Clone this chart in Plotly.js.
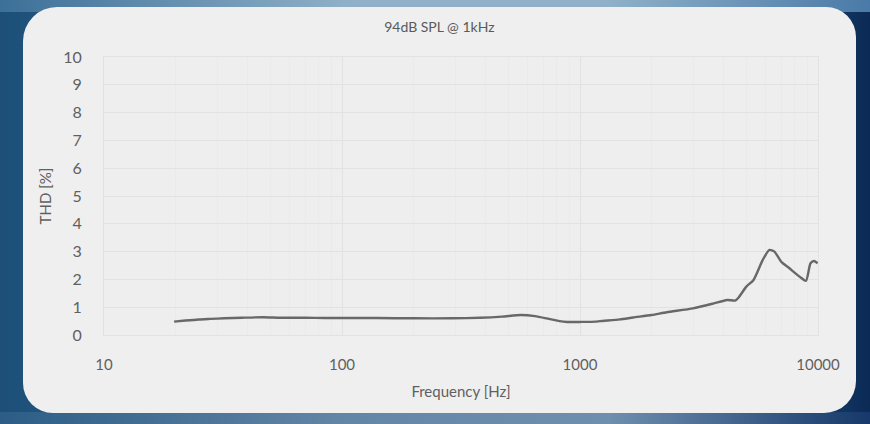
<!DOCTYPE html>
<html><head><meta charset="utf-8">
<script src="https://cdn.plot.ly/plotly-3.0.1.min.js"></script>
<style>
html,body{margin:0;padding:0;width:870px;height:424px;overflow:hidden;}
body{background:linear-gradient(90deg,#1d4f78 0%,#2a6a96 30%,#3a7aa6 60%,#1c4a7a 90%,#0b2a55 100%);position:relative;}
#topband{position:absolute;left:0;top:0;width:870px;height:12px;background:linear-gradient(90deg,#3d7098,#8fb0c8 40%,#8fb0c8 70%,#4a7aa8);}
#botband{position:absolute;left:0;top:412px;width:870px;height:12px;background:linear-gradient(90deg,#2c5d86,#6486a6 40%,#6f8fae 70%,#16386a);}
#panel{position:absolute;left:23px;top:7px;width:833px;height:406px;background:#efefef;border-radius:34px 30px 32px 30px;}
#chart{position:absolute;left:0;top:0;width:870px;height:424px;}
</style></head>
<body>
<div id="topband"></div><div id="botband"></div><div id="panel"></div>
<div id="chart"></div>
<script>
const freqHz = [19.7, 22, 25, 27.9, 32, 38, 46.8, 55, 70, 85, 103, 140, 200, 292, 380, 470, 564, 647, 740, 820, 882, 1000, 1163, 1213, 1472, 1672, 2000, 2316, 2985, 3622, 4147, 4490, 4620, 5000, 5360, 5860, 6250, 6560, 7000, 7580, 8360, 8900, 9300, 9620, 9960];
const thdPct = [0.48, 0.52, 0.56, 0.58, 0.60, 0.62, 0.64, 0.62, 0.62, 0.61, 0.61, 0.61, 0.60, 0.60, 0.62, 0.66, 0.72, 0.68, 0.58, 0.50, 0.47, 0.47, 0.48, 0.50, 0.56, 0.63, 0.72, 0.82, 0.96, 1.13, 1.26, 1.24, 1.33, 1.74, 1.98, 2.70, 3.06, 3.00, 2.64, 2.40, 2.10, 1.95, 2.58, 2.66, 2.58];
const xTickVals = [10, 100, 1000, 10000];
const xTickText = ['10', '100', '1000', '10000'];
const xMinorVals = [20,30,40,50,60,70,80,90,200,300,400,500,600,700,800,900,2000,3000,4000,5000,6000,7000,8000,9000];

const font = {family: 'Lato, "Open Sans", sans-serif', color: '#5f5f5f', size: 14};
Plotly.newPlot('chart', [{
  x: freqHz, y: thdPct, type: 'scatter', mode: 'lines',
  line: {color: '#686868', width: 2.4, shape: 'spline', smoothing: 0.6},
  hoverinfo: 'skip'
}], {
  width: 870, height: 424,
  paper_bgcolor: 'rgba(0,0,0,0)', plot_bgcolor: '#eeeeee',
  margin: {l: 104, r: 52, t: 57, b: 89},
  showlegend: false,
  font: font,
  title: {text: '94dB SPL @ 1kHz', font: {family: font.family, size: 14, color: '#5a5a5a'}, x: 0.505, xref: 'container', y: 0.935, yref: 'container', xanchor: 'center', yanchor: 'middle'},
  xaxis: {
    type: 'log', range: [1, 4], tickmode: 'array', tickvals: xTickVals, ticktext: xTickText,
    showgrid: true, gridcolor: '#e2e2e2', gridwidth: 1,
    minor: {tickmode: 'array', tickvals: xMinorVals, showgrid: true, gridcolor: '#eaeaea', gridwidth: 1, ticks: ''},
    ticks: '', ticklabelstandoff: 16, zeroline: false,
    showline: true, linecolor: '#e2e2e2', mirror: true,
    tickfont: {family: font.family, size: 15, color: '#5f5f5f'},
    title: {text: 'Frequency [Hz]', font: {family: font.family, size: 15, color: '#5f5f5f'}, standoff: 14}
  },
  yaxis: {
    range: [0, 10], dtick: 1, tick0: 0,
    showgrid: true, gridcolor: '#e2e2e2', gridwidth: 1,
    ticks: '', ticklabelstandoff: 18, zeroline: false,
    showline: true, linecolor: '#e2e2e2', mirror: true,
    tickfont: {family: font.family, size: 16, color: '#5f5f5f'},
    title: {text: 'THD [%]', font: {family: font.family, size: 15, color: '#5f5f5f'}, standoff: 7}
  }
}, {staticPlot: true, displayModeBar: false});
</script>
</body></html>
